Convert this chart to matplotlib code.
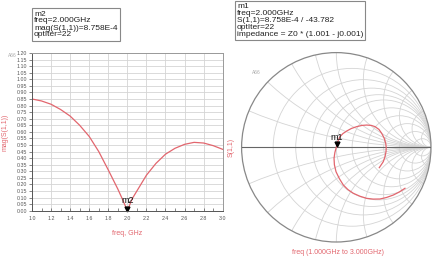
import numpy as np
import matplotlib
matplotlib.use("Agg")
import matplotlib.pyplot as plt
from matplotlib.patches import Circle

plt.rcParams['font.family'] = ['Liberation Sans', 'DejaVu Sans']

# |S11| vs frequency
freq = [1.0, 1.1, 1.2, 1.3, 1.4, 1.5, 1.6, 1.7, 1.8, 1.9, 1.95, 2.0,
        2.05, 2.1, 2.2, 2.3, 2.4, 2.5, 2.6, 2.7, 2.8, 2.9, 3.0]
mag_s11 = [0.85, 0.835, 0.81, 0.77, 0.72, 0.65, 0.565, 0.45, 0.31, 0.165, 0.085, 0.0,
           0.09, 0.15, 0.27, 0.36, 0.43, 0.475, 0.505, 0.52, 0.515, 0.495, 0.467]

# S11 trace on the Smith chart (real / imag of reflection coefficient)
gamma_re = [0.725, 0.665, 0.602, 0.530, 0.461, 0.390, 0.321, 0.250, 0.180, 0.122, 0.074,
            0.032, -0.003, -0.020, -0.024, -0.015, 0.0,
            0.015, 0.039, 0.070, 0.110, 0.160, 0.215, 0.270, 0.321, 0.370, 0.409,
            0.450, 0.479, 0.505, 0.522, 0.527, 0.525, 0.514, 0.496, 0.454]
gamma_im = [-0.433, -0.472, -0.504, -0.530, -0.546, -0.547, -0.539, -0.517, -0.486, -0.446, -0.398,
            -0.330, -0.258, -0.185, -0.116, -0.055, 0.0,
            0.060, 0.112, 0.145, 0.172, 0.199, 0.218, 0.231, 0.235, 0.231, 0.218,
            0.189, 0.148, 0.098, 0.042, -0.002, -0.046, -0.100, -0.152, -0.215]

x_ticks = [1.0, 1.2, 1.4, 1.6, 1.8, 2.0, 2.2, 2.4, 2.6, 2.8, 3.0]
y_ticks = [round(0.05 * i, 2) for i in range(25)]

r_values = [0.2, 0.4, 0.6, 0.8, 1.0, 1.4, 2, 3, 5, 10]
x_values = [0.2, 0.4, 0.6, 0.8, 1.0, 1.4, 2, 3, 5, 10]

RED = '#e2666e'
GRID = '#d4d4d4'

W, H = 437, 258
fig = plt.figure(figsize=(W / 100, H / 100), dpi=100)

# ---- left: rectangular plot
ax = fig.add_axes([32 / W, 1 - 210.7 / H, 190.7 / W, 157.7 / H])
ax.plot(freq, mag_s11, color=RED, lw=0.9)
ax.set_xlim(1.0, 3.0)
ax.set_ylim(0.0, 1.2)
ax.set_xticks(x_ticks)
ax.set_xticklabels(['%.1f' % v for v in x_ticks])
ax.set_xticks(np.arange(1.1, 3.0, 0.2), minor=True)
ax.set_yticks(y_ticks)
ax.set_yticklabels(['%.2f' % v for v in y_ticks])
ax.grid(True, which='major', color=GRID, lw=0.6)
ax.tick_params(axis='both', which='both', labelsize=3.8, colors='#555555',
               length=2, width=0.5, pad=1.5)
ax.tick_params(axis='x', which='both', direction='in', pad=4)
ax.tick_params(axis='y', direction='out')
for s in ['top', 'right']:
    ax.spines[s].set_color('#999999')
for s in ['left', 'bottom']:
    ax.spines[s].set_color('#555555')
for s in ax.spines.values():
    s.set_linewidth(0.7)
ax.set_xlabel('freq, GHz', color=RED, fontsize=5, labelpad=6)
ax.set_ylabel('mag(S(1,1))', color=RED, fontsize=5, labelpad=6)
ax.plot([2.0], [0.012], marker='v', color='black', ms=3.5, clip_on=False)
ax.text(2.0, 0.045, 'm2', fontsize=6.5, ha='center', va='bottom', color='#111111')

fig.text(12 / W, 1 - 56 / H, 'A66', fontsize=3.5, color='#aaaaaa', ha='center', va='center')
fig.text(231.5 / W, 1 - 147 / H, 'S(1,1)', fontsize=5, color=RED, rotation=90,
         ha='center', va='center')

# ---- right: Smith chart
R = 94.7
sx = fig.add_axes([(336.3 - R) / W, 1 - (147.3 + R) / H, 2 * R / W, 2 * R / H])
sx.set_xlim(-1, 1)
sx.set_ylim(-1, 1)
sx.axis('off')
clip = Circle((0, 0), 1, transform=sx.transData, fill=False, lw=0)
sx.add_patch(clip)
for r in r_values:
    c = Circle((r / (1 + r), 0), 1 / (1 + r), fill=False, color=GRID, lw=0.6)
    sx.add_patch(c)
    c.set_clip_path(clip)
for xv in x_values:
    for sgn in (1, -1):
        c = Circle((1, sgn / xv), 1 / xv, fill=False, color=GRID, lw=0.6)
        sx.add_patch(c)
        c.set_clip_path(clip)
sx.plot([-1, 1], [0, 0], color='#666666', lw=0.8)
sx.add_patch(Circle((0, 0), 1, fill=False, color='#888888', lw=0.9, clip_on=False))
sx.plot(gamma_re, gamma_im, color=RED, lw=0.9)
sx.plot([0.004], [0.03], marker='v', color='black', ms=3.5)
sx.text(0.004, 0.06, 'm1', fontsize=6.5, ha='center', va='bottom', color='#111111')

fig.text(256 / W, 1 - 72 / H, 'A66', fontsize=3.5, color='#aaaaaa', ha='center', va='center')
fig.text(338 / W, 1 - 253 / H, 'freq (1.000GHz to 3.000GHz)', fontsize=5, color=RED,
         ha='center', va='center')

# ---- marker readouts
box = dict(boxstyle='square,pad=0.25', fc='white', ec='#888888', lw=0.8)
fig.text(34 / W, 1 - 10.5 / H,
         'm2\nfreq=2.000GHz\nmag(S(1,1))=8.758E-4\noptIter=22',
         fontsize=6, va='top', ha='left', linespacing=1.0, color='#222222', bbox=box)
fig.text(237 / W, 1 - 3 / H,
         'm1\nfreq=2.000GHz\nS(1,1)=8.758E-4 / -43.782\noptIter=22\n'
         'impedance = Z0 * (1.001 - j0.001)',
         fontsize=6, va='top', ha='left', linespacing=1.0, color='#222222', bbox=box)

fig.savefig('out.png', dpi=100)
